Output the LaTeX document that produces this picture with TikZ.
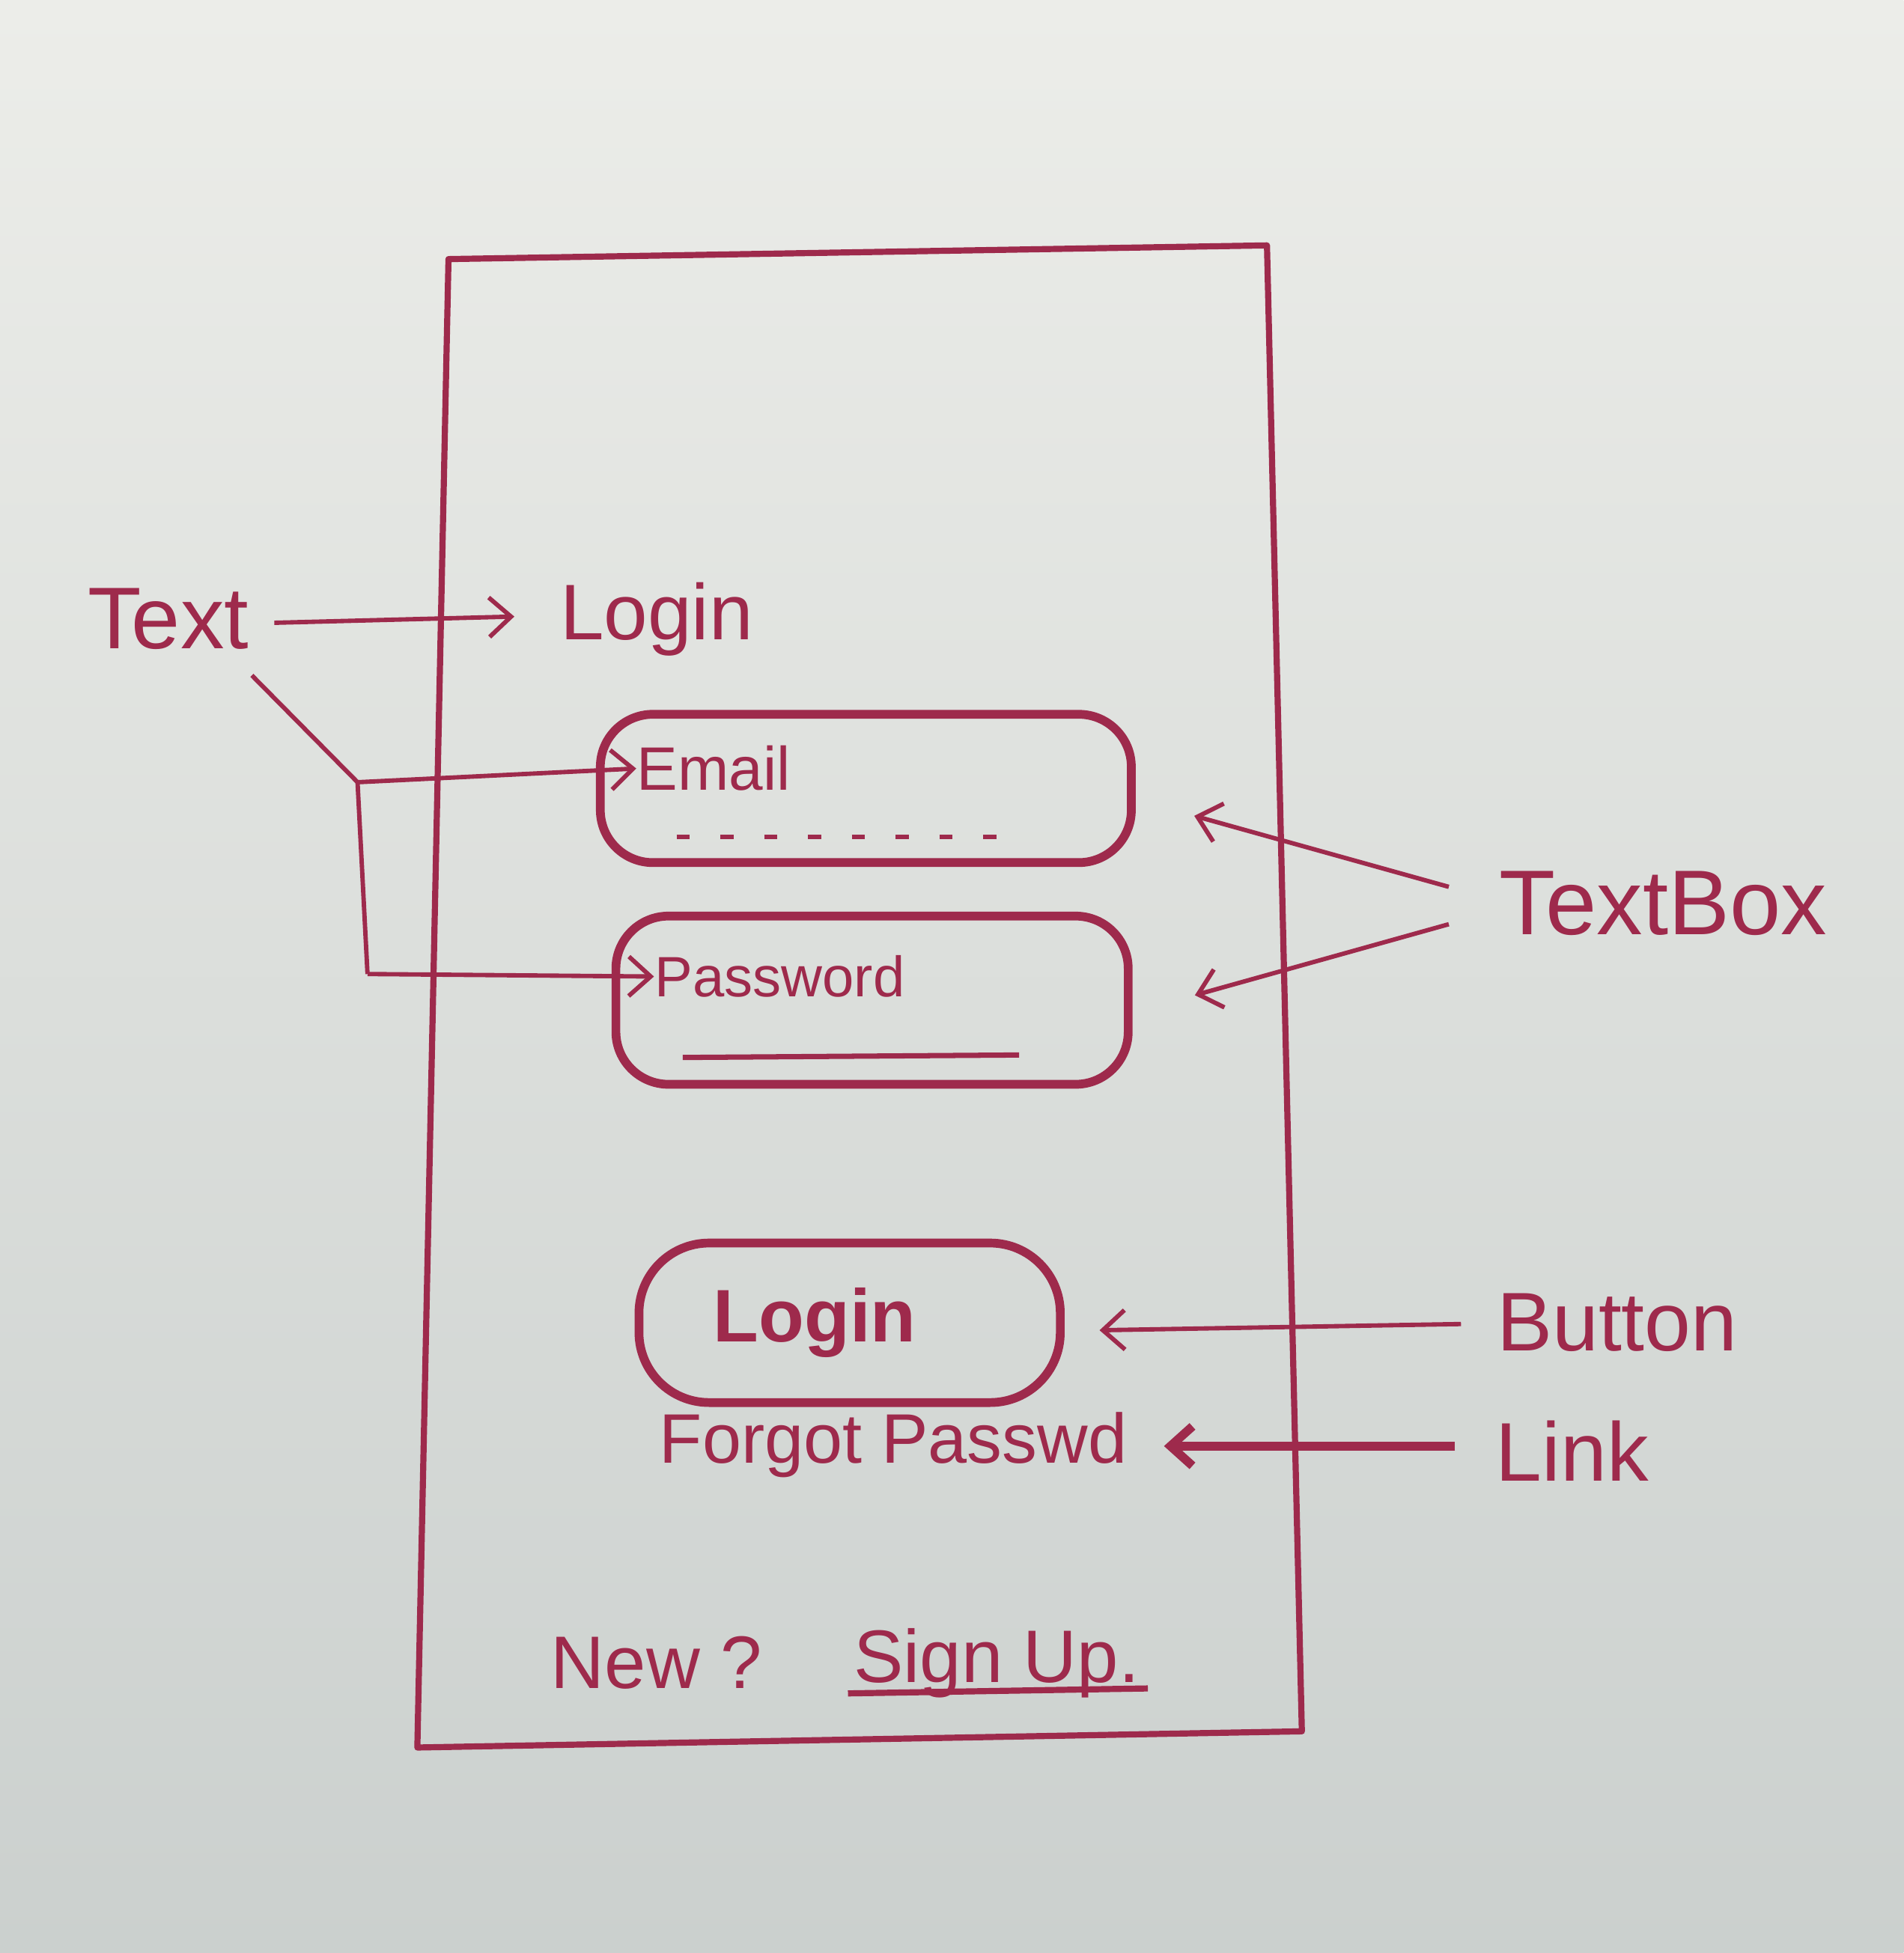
\documentclass[tikz,border=0pt]{standalone}
\usepackage{fontspec}
\setmainfont{Liberation Sans}
\usetikzlibrary{arrows.meta,calc}
\definecolor{ink}{RGB}{158,42,76}
\definecolor{papertop}{RGB}{236,237,233}
\definecolor{paperbot}{RGB}{203,208,206}

\begin{document}
\begin{tikzpicture}[x=0.01cm, y=-0.01cm, >={Straight Barb[length=5pt,width=9pt]},
    lbl/.style={ink, inner sep=0pt},
    boxline/.style={draw=ink, line width=2pt, rounded corners=12pt, inner sep=0pt},
    pointer/.style={->, ink, line width=1pt}]
    % --- 1. Paper ---
    \fill[top color=papertop, bottom color=paperbot] (0,0) rectangle (1528,1568);
    \useasboundingbox (0,0) rectangle (1528,1568);
    % --- 2. Phone frame ---
    \draw[ink, line width=1.4pt, line join=round] (360,208) -- (1017,197) -- (1045,1390) -- (335,1403) -- cycle;
    % --- 3. Screen widgets ---
    \node[lbl, font=\fontsize{18}{22}\selectfont] (title) at (527,497) {Login};
    \node[boxline, minimum width=4.26cm, minimum height=1.19cm] (emailbox) at (695,633) {};
    \node[lbl, font=\fontsize{14}{17}\selectfont] (emaillbl) at (573,617) {Email};
    \draw[ink, line width=1pt, dash pattern=on 3pt off 7pt] (543,672) -- (818,672);
    \node[boxline, minimum width=4.11cm, minimum height=1.35cm] (passbox) at (700,803) {};
    \node[lbl, font=\fontsize{13}{16}\selectfont] (passlbl) at (626,784) {Password};
    \draw[ink, line width=1.2pt] (548,849) -- (818,847);
    \node[boxline, minimum width=3.38cm, minimum height=1.28cm, rounded corners=16pt] (btnbox) at (682,1062) {};
    \node[lbl, font=\bfseries\fontsize{17}{21}\selectfont] (btntext) at (654,1062) {Login};
    \node[lbl, font=\fontsize{16}{19}\selectfont] (forgot) at (717,1160) {Forgot Passwd};
    \node[lbl, font=\fontsize{17}{20}\selectfont] (newq) at (527,1335) {New ?};
    \node[lbl, font=\fontsize{17}{20}\selectfont] (signup) at (800,1335) {Sign Up.};
    \draw[ink, line width=1.4pt] ($(signup.south west)+(-4,-4)$) -- ($(signup.south east)+(6,-8)$);
    % --- 4. Annotations ---
    \node[lbl, font=\fontsize{20}{24}\selectfont] (txtlbl) at (135,497) {Text};
    \node[lbl, font=\fontsize{21}{25}\selectfont] (boxlbl) at (1335,725) {TextBox};
    \node[lbl, font=\fontsize{19}{23}\selectfont] (btnlbl) at (1298,1062) {Button};
    \node[lbl, font=\fontsize{19}{23}\selectfont] (linklbl) at (1262,1165) {Link};
    \coordinate (fork) at (287,628);
    \coordinate (bend) at (295,782);
    \draw[pointer] ($(txtlbl.east)+(20,3)$) -- ($(title.west)+(-36,-2)$);
    \draw[ink, line width=1pt] ($(txtlbl.south east)+(2,20)$) -- (fork) -- (bend);
    \draw[pointer] (fork) -- (emaillbl.west);
    \draw[pointer] (bend) -- (passlbl.west);
    \draw[pointer] ($(boxlbl.west)+(-40,-13)$) -- ($(emailbox.east)+(47,22)$);
    \draw[pointer] ($(boxlbl.west)+(-40,17)$) -- ($(passbox.east)+(50,-4)$);
    \draw[pointer] ($(btnlbl.west)+(-28,1)$) -- ($(btnbox.east)+(28,6)$);
    \draw[pointer, line width=2pt] ($(linklbl.west)+(-32,-4)$) -- ($(forgot.east)+(29,1)$);
\end{tikzpicture}
\end{document}
